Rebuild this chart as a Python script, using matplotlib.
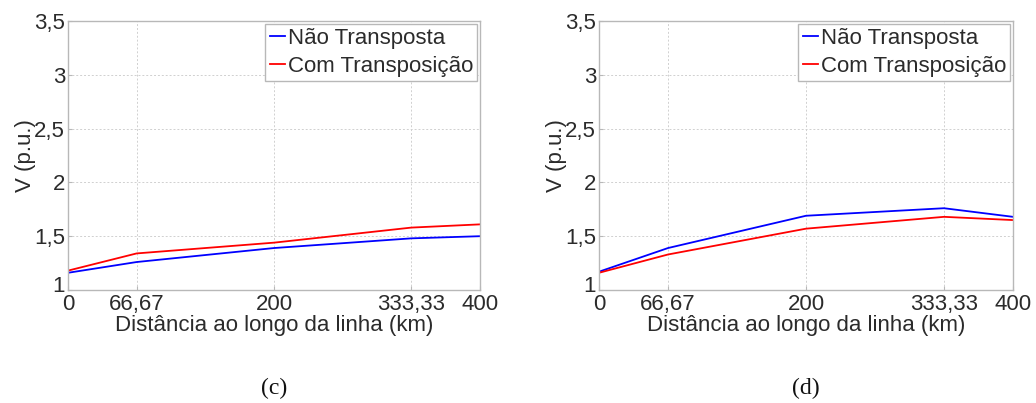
import matplotlib.pyplot as plt
import matplotlib.transforms as mtransforms

# dados
distancia = [0, 66.67, 200, 333.33, 400]
tick_labels = ["0", "66,67", "200", "333,33", "400"]
y_ticks = [1, 1.5, 2, 2.5, 3, 3.5]
y_labels = ["1", "1,5", "2", "2,5", "3", "3,5"]

c_nao_transp = [1.16, 1.26, 1.39, 1.48, 1.50]
c_com_transp = [1.18, 1.34, 1.44, 1.58, 1.61]

d_nao_transp = [1.17, 1.39, 1.69, 1.76, 1.68]
d_com_transp = [1.16, 1.33, 1.57, 1.68, 1.65]

plt.rcParams['font.family'] = ['Liberation Sans', 'DejaVu Sans']

fig = plt.figure(figsize=(10.36, 4.03), dpi=100)

posicoes = [
    [68 / 1036, 1 - 290 / 403, 412 / 1036, 269 / 403],
    [599 / 1036, 1 - 290 / 403, 414 / 1036, 269 / 403],
]
paineis = [
    (c_nao_transp, c_com_transp, "(c)"),
    (d_nao_transp, d_com_transp, "(d)"),
]

texto = "#2b2b2b"
borda = "#b8b8b8"
fs = 16

for pos, (nao, com, letra) in zip(posicoes, paineis):
    ax = fig.add_axes(pos)
    ax.plot(distancia, nao, color="#0000ff", lw=1.3, label="Não Transposta")
    ax.plot(distancia, com, color="#ff0000", lw=1.3, label="Com Transposição")

    ax.set_xlim(0, 400)
    ax.set_ylim(1, 3.5)
    ax.set_xticks(distancia)
    ax.set_xticklabels(tick_labels)
    ax.set_yticks(y_ticks)
    ax.set_yticklabels(y_labels)

    ax.tick_params(direction="in", length=3, color=borda, labelsize=fs,
                   labelcolor=texto)
    ax.tick_params(axis="x", pad=3)
    ax.tick_params(axis="y", pad=2)

    # o "1" fica um pouco acima do "0", como no original
    lbl1 = ax.get_yticklabels()[0]
    lbl1.set_transform(lbl1.get_transform() +
                       mtransforms.ScaledTranslation(0, 4 / 72, fig.dpi_scale_trans))

    for s in ax.spines.values():
        s.set_color(borda)
        s.set_linewidth(1.0)
    ax.grid(True, linestyle=(0, (2, 2)), color="#d0d0d0", linewidth=0.7)

    ax.set_xlabel("Distância ao longo da linha (km)", fontsize=fs,
                  color=texto, labelpad=0)
    ax.set_ylabel("V (p.u.)", fontsize=fs, color=texto, labelpad=-1)

    leg = ax.legend(loc="upper right", fontsize=fs, handlelength=0.7,
                    handletextpad=0.1, borderpad=0.2, labelspacing=0.3,
                    borderaxespad=0.12, fancybox=False, framealpha=1)
    leg.get_frame().set_edgecolor(borda)
    leg.get_frame().set_linewidth(1.0)
    for t in leg.get_texts():
        t.set_color(texto)

    cx = pos[0] + pos[2] / 2
    fig.text(cx, 1 - 388 / 403, letra, ha="center", va="center",
             fontsize=17, family="Liberation Serif", color="#111111")

fig.savefig("out.png", dpi=100)
